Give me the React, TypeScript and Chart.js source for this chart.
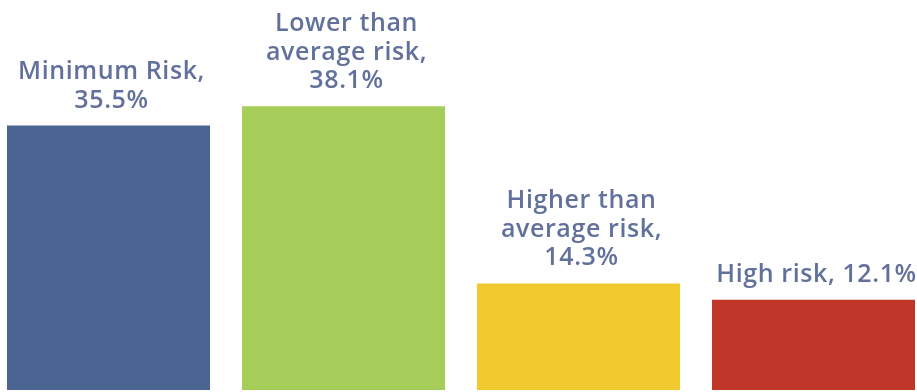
import React, { useEffect, useRef } from "react";
import { Chart, registerables } from "chart.js";

Chart.register(...registerables);

const categories = ["Minimum Risk", "Lower than average risk", "Higher than average risk", "High risk"];
const values = [35.5, 38.1, 14.3, 12.1];
const labelLines = [
  ["Minimum Risk,", "35.5%"],
  ["Lower than", "average risk,", "38.1%"],
  ["Higher than", "average risk,", "14.3%"],
  ["High risk, 12.1%"],
];
const colors = ["#4a6591", "#a6cd5a", "#f1c92f", "#c0372a"];

const labelPlugin = {
  id: "barLabels",
  afterDatasetsDraw(chart: any) {
    const ctx = chart.ctx;
    const meta = chart.getDatasetMeta(0);
    ctx.save();
    ctx.font = "600 25px 'Open Sans', sans-serif";
    try { (ctx as any).letterSpacing = "0.6px"; } catch (e) {}
    ctx.fillStyle = "#62719c";
    ctx.textAlign = "center";
    ctx.textBaseline = "alphabetic";
    const lineH = 28.5;
    meta.data.forEach((bar: any, i: number) => {
      const lines = labelLines[i];
      const baseY = bar.y - 18;
      lines.forEach((ln, j) => {
        const y = baseY - (lines.length - 1 - j) * lineH;
        ctx.fillText(ln, bar.x + 3, y);
      });
    });
    ctx.restore();
  },
};

export default function App() {
  const ref = useRef<HTMLCanvasElement>(null);
  useEffect(() => {
    if (!ref.current) return;
    const chart = new Chart(ref.current, {
      type: "bar",
      data: {
        labels: categories,
        datasets: [
          {
            data: values,
            backgroundColor: colors,
            borderWidth: 0,
            barPercentage: 0.864,
            categoryPercentage: 1,
          },
        ],
      },
      options: {
        animation: false,
        responsive: false,
        maintainAspectRatio: false,
        layout: { padding: { top: 0, bottom: 2, left: 0, right: 0 } },
        plugins: { legend: { display: false }, tooltip: { enabled: false } },
        scales: {
          x: { display: false },
          y: { display: false, min: 0, max: 52.35 },
        },
      },
      plugins: [labelPlugin],
    });
    return () => chart.destroy();
  }, []);
  return (
    <div style={{ position: "fixed", left: 0, top: 0, width: 917, height: 392, overflow: "hidden", background: "#fff" }}>
      <canvas ref={ref} width={940} height={392} style={{ position: "absolute", left: -9, top: 0, width: 940, height: 392 }} />
    </div>
  );
}
